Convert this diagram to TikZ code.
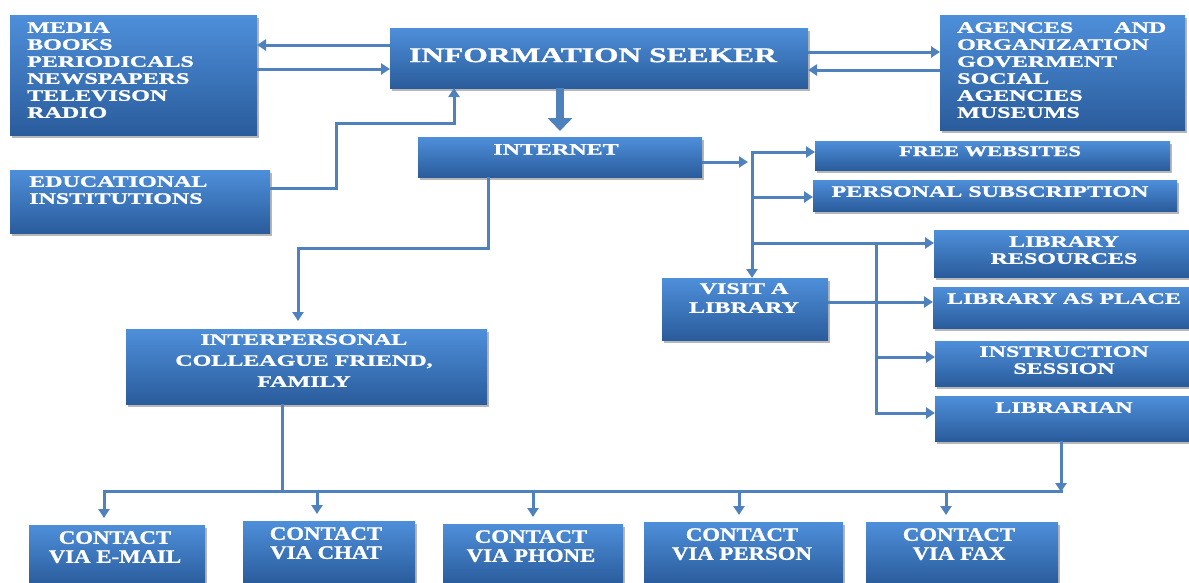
\documentclass[tikz,border=0pt]{standalone}
\usepackage{fontspec}
\setmainfont{Liberation Serif}
\newfontfamily\wfont[FakeStretch=1.5,FakeBold=1.2]{Liberation Serif}
\newfontfamily\cfont[FakeStretch=1.2,FakeBold=1.2]{Liberation Serif}
\usetikzlibrary{arrows.meta,shadows,calc}
\definecolor{ln}{RGB}{79,129,189}
\definecolor{btop}{RGB}{78,143,218}
\definecolor{bbot}{RGB}{42,92,156}
\tikzset{
 bx/.style={anchor=north west, inner sep=0, outer sep=0, top color=btop, bottom color=bbot, draw=none,
   drop shadow={shadow xshift=1.5pt, shadow yshift=-2.5pt, opacity=0.4, fill=black!70}},
 tx/.style={inner sep=0, text=white, font=\wfont\bfseries\fontsize{16}{17}\selectfont},
 cx/.style={inner sep=0, text=white, font=\cfont\bfseries\fontsize{19}{19}\selectfont, align=center, anchor=north},
 conn/.style={draw=ln, line width=3pt},
 arr/.style={conn, -{Triangle[length=9pt,width=11pt]}},
}
\newcommand\mkbox[5]{\node[bx, minimum width=#4pt, minimum height=#5pt] (#1) at (#2,#3) {};}
\begin{document}
\begin{tikzpicture}[x=1pt,y=-1pt]
\useasboundingbox (0,0) rectangle (1189,582);
% boxes
\mkbox{media}{10}{15}{247}{120}
\mkbox{seeker}{390}{28}{418}{60}
\mkbox{agences}{940}{15}{245}{115}
\mkbox{edu}{10}{170}{260}{63}
\mkbox{internet}{418}{137}{284}{40}
\mkbox{free}{815}{141}{355}{29}
\mkbox{personal}{813}{180}{364}{31}
\mkbox{libres}{934}{230}{255}{47}
\mkbox{libplace}{933}{287}{256}{41}
\mkbox{instr}{935}{341}{254}{45}
\mkbox{librarian}{935}{396}{254}{45}
\mkbox{visit}{662}{278}{166}{62}
\mkbox{inter}{126}{329}{361}{75}
\mkbox{email}{29}{525}{176}{60}
\mkbox{chat}{243}{521}{172}{62}
\mkbox{phone}{443}{524}{180}{60}
\mkbox{person}{644}{522}{199}{62}
\mkbox{fax}{866}{522}{192}{62}
% texts
\node[tx, anchor=north west, align=left] (t-media) at (27,22) {MEDIA\\BOOKS\\PERIODICALS\\NEWSPAPERS\\TELEVISON\\RADIO};
\node[tx, anchor=north, font=\wfont\bfseries\fontsize{21}{24}\selectfont] (t-seeker) at (593,48) {INFORMATION SEEKER};
\node[tx, anchor=north west, align=left, text width=209pt] (t-agences) at (957,22) {AGENCES\hfill AND\\ORGANIZATION\\GOVERMENT\\SOCIAL\\AGENCIES\\MUSEUMS};
\node[tx, anchor=north west, align=left] (t-edu) at (29,176) {EDUCATIONAL\\INSTITUTIONS};
\node[tx, anchor=north] (t-internet) at (556,144) {INTERNET};
\node[tx, anchor=north, font=\wfont\bfseries\fontsize{15}{17}\selectfont] (t-free) at (990,146) {FREE WEBSITES};
\node[tx, anchor=north] (t-personal) at (990,186) {PERSONAL SUBSCRIPTION};
\node[tx, anchor=north, align=center] (t-libres) at (1064,236) {LIBRARY\\RESOURCES};
\node[tx, anchor=north] (t-libplace) at (1064,293) {LIBRARY AS PLACE};
\node[tx, anchor=north, align=center] (t-instr) at (1064,346) {INSTRUCTION\\SESSION};
\node[tx, anchor=north] (t-librarian) at (1064,402) {LIBRARIAN};
\node[tx, anchor=north, align=center, font=\wfont\bfseries\fontsize{16}{19}\selectfont] (t-visit) at (744,283) {VISIT A\\LIBRARY};
\node[tx, anchor=north, align=center, font=\wfont\bfseries\fontsize{16}{21}\selectfont] (t-inter) at (304,334) {INTERPERSONAL\\COLLEAGUE FRIEND,\\FAMILY};
\node[cx] (t-email) at (115,531) {CONTACT\\VIA E-MAIL};
\node[cx] (t-chat) at (326,527) {CONTACT\\VIA CHAT};
\node[cx] (t-phone) at (531,530) {CONTACT\\VIA PHONE};
\node[cx] (t-person) at (742,528) {CONTACT\\VIA PERSON};
\node[cx] (t-fax) at (959,528) {CONTACT\\VIA FAX};
% connectors
\draw[arr] (seeker.west |- 0,45) -- (media.east |- 0,45);
\draw[arr] (media.east |- 0,69) -- (seeker.west |- 0,69);
\draw[arr] (seeker.east |- 0,52) -- (agences.west |- 0,52);
\draw[arr] (agences.west |- 0,70) -- (seeker.east |- 0,70);
\draw[conn, line width=8pt, -{Triangle[length=13pt,width=24pt]}, shorten >=6pt] (seeker.south -| 560,0) -- (internet.north -| 560,0);
\draw[arr] (edu.east |- 0,188) -- (336,188) -- (336,123) -- (454,123) -- (seeker.south -| 454,0);
\coordinate (hub) at (748,162);
\draw[arr] (internet.east |- 0,162) -- (hub);
\draw[arr] (752,150.5) -- (visit.north -| 752,0);
\draw[arr] (752,152) -- (free.west |- 0,152);
\draw[arr] (752,197) -- (personal.west |- 0,197);
\draw[arr] (752,243) -- (libres.west |- 0,243);
\draw[arr] (876,243) |- (librarian.west |- 0,413);
\draw[arr] (876,357) -- (instr.west |- 0,357);
\draw[arr] (visit.east |- 0,302) -- (libplace.west |- 0,302);
\draw[arr, shorten >=8pt] (internet.south -| 488,0) |- (298,248) -- (inter.north -| 298,0);
\draw[conn] (inter.south -| 282,0) -- (282,491);
\draw[conn] (104,491) -- (1062.5,491);
\draw[arr] (librarian.south -| 1061,0) -- (1061,492);
\foreach \n/\xx in {email/104, chat/317, phone/533, person/739, fax/946}
  \draw[arr, shorten >=7pt] (\xx,489.5) -- (\n.north -| \xx,0);
\end{tikzpicture}
\end{document}
